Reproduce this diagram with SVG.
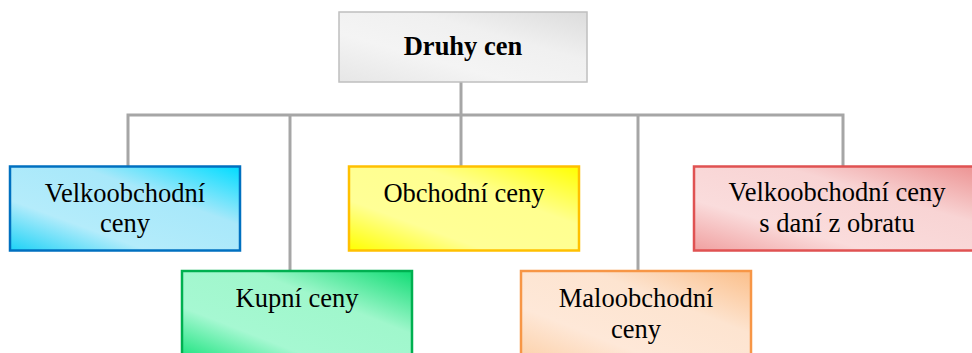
<svg xmlns="http://www.w3.org/2000/svg" width="972" height="353" viewBox="0 0 972 353">
<defs>
<linearGradient id="gGray" x1="0" y1="1" x2="1" y2="0">
<stop offset="0" stop-color="#e6e6e6"/><stop offset="0.35" stop-color="#f4f4f4"/><stop offset="0.65" stop-color="#f0f0f0"/><stop offset="1" stop-color="#dcdcdc"/>
</linearGradient>
<linearGradient id="gBlue" x1="0" y1="1" x2="1" y2="0">
<stop offset="0" stop-color="#1cd2f6"/><stop offset="0.3" stop-color="#b4ecfb"/><stop offset="0.65" stop-color="#a8e8fa"/><stop offset="1" stop-color="#00dcff"/>
</linearGradient>
<linearGradient id="gYellow" x1="0" y1="1" x2="1" y2="0">
<stop offset="0" stop-color="#ffff00"/><stop offset="0.3" stop-color="#ffff96"/><stop offset="0.65" stop-color="#ffff90"/><stop offset="1" stop-color="#ffff00"/>
</linearGradient>
<linearGradient id="gRed" x1="0" y1="1" x2="1" y2="0">
<stop offset="0" stop-color="#f0a0a0"/><stop offset="0.3" stop-color="#fadcdc"/><stop offset="0.65" stop-color="#f8d4d4"/><stop offset="1" stop-color="#ec9090"/>
</linearGradient>
<linearGradient id="gGreen" x1="0" y1="1" x2="1" y2="0">
<stop offset="0" stop-color="#14e27a"/><stop offset="0.3" stop-color="#a6f8d2"/><stop offset="0.65" stop-color="#a0f7cc"/><stop offset="1" stop-color="#10dc74"/>
</linearGradient>
<linearGradient id="gOrange" x1="0" y1="1" x2="1" y2="0">
<stop offset="0" stop-color="#fcd0a8"/><stop offset="0.3" stop-color="#fee8d8"/><stop offset="0.65" stop-color="#fde4d0"/><stop offset="1" stop-color="#fbbf8a"/>
</linearGradient>
</defs>
<style>
.t{font-family:"Liberation Serif","Times New Roman",serif;font-size:26.5px;fill:#000;text-anchor:middle}
.b{font-weight:bold}
.c{fill:none;stroke:#a6a6a6;stroke-width:3}
.n{stroke-width:2.5}
</style>
<g id="connectors">
<polyline class="c" points="461,82 461,166"/>
<polyline class="c" points="128,166 128,115 843,115 843,166"/>
<polyline class="c" points="290,116 290,271"/>
<polyline class="c" points="638,116 638,271"/>
</g>
<g id="druhy-cen">
<rect x="339" y="12" width="248" height="70" fill="url(#gGray)" stroke="#bfbfbf" stroke-width="1.5"/>
<text class="t b" x="463" y="55">Druhy cen</text>
</g>
<g id="velkoobchodni-ceny">
<rect class="n" x="10" y="166.5" width="230" height="84" fill="url(#gBlue)" stroke="#0070c0"/>
<text class="t" x="125" y="202">Velkoobchodní</text>
<text class="t" x="125" y="232">ceny</text>
</g>
<g id="obchodni-ceny">
<rect class="n" x="349" y="166.5" width="230" height="84" fill="url(#gYellow)" stroke="#ffc000"/>
<text class="t" x="464" y="202">Obchodní ceny</text>
</g>
<g id="velkoobchodni-ceny-dan">
<rect class="n" x="694" y="166.5" width="290" height="84" fill="url(#gRed)" stroke="#e05252"/>
<text class="t" x="837" y="201">Velkoobchodní ceny</text>
<text class="t" x="837" y="232">s daní z obratu</text>
</g>
<g id="kupni-ceny">
<rect class="n" x="182" y="271" width="230" height="90" fill="url(#gGreen)" stroke="#00b050"/>
<text class="t" x="297" y="307">Kupní ceny</text>
</g>
<g id="maloobchodni-ceny">
<rect class="n" x="521" y="271" width="230" height="90" fill="url(#gOrange)" stroke="#f79646"/>
<text class="t" x="636" y="307">Maloobchodní</text>
<text class="t" x="636" y="338">ceny</text>
</g>
</svg>
